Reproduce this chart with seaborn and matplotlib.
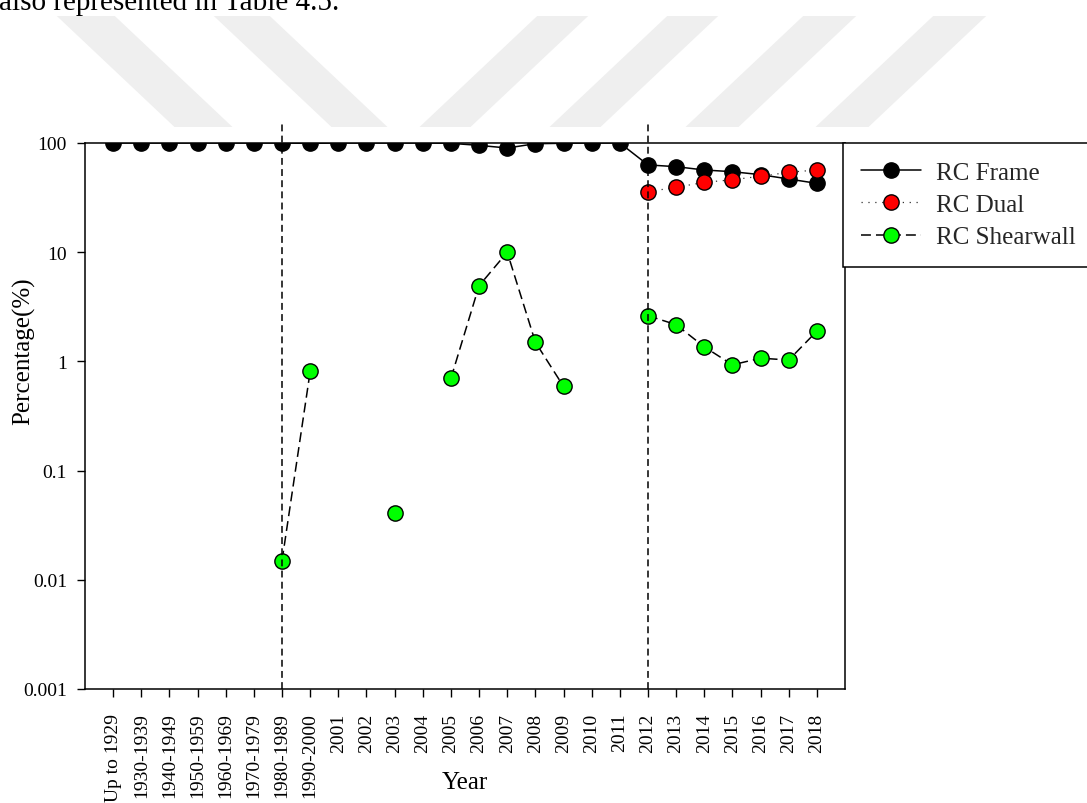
import numpy as np
import pandas as pd
import matplotlib
matplotlib.use("Agg")
import matplotlib.pyplot as plt
import seaborn as sns
from matplotlib.lines import Line2D
from matplotlib.patches import Polygon
from matplotlib.ticker import FixedLocator, NullLocator

# ---------------- data ----------------
categories = ["Up to 1929", "1930-1939", "1940-1949", "1950-1959", "1960-1969",
              "1970-1979", "1980-1989", "1990-2000", "2001", "2002", "2003", "2004",
              "2005", "2006", "2007", "2008", "2009", "2010", "2011", "2012", "2013",
              "2014", "2015", "2016", "2017", "2018"]
nan = np.nan
rc_frame = [100, 100, 100, 100, 100, 100, 99.985, 99.2, 100, 100, 99.96, 100,
            99.3, 95.1, 90.0, 98.5, 99.4, 100, 100,
            63.0, 60.7, 56.6, 54.6, 51.3, 46.8, 42.7]
rc_dual = [nan] * 19 + [35.8, 39.3, 43.6, 46.1, 49.6, 53.9, 56.6]
rc_shearwall = [nan, nan, nan, nan, nan, nan, 0.015, 0.81, nan, nan, 0.041, nan,
                0.70, 4.93, 10.0, 1.5, 0.59, nan, nan,
                2.62, 2.17, 1.36, 0.93, 1.07, 1.03, 1.89]
series_names = ["RC Frame", "RC Dual", "RC Shearwall"]
y_ticks = [0.001, 0.01, 0.1, 1, 10, 100]
y_tick_labels = ["0.001", "0.01", "0.1", "1", "10", "100"]
ref_categories = ["1980-1989", "2012"]
x_label = "Year"
y_label = "Percentage(%)"
page_text = "also represented in Table 4.5."

# ---------------- style ----------------
sns.set_theme(style="white")
plt.rcParams["font.family"] = ["Liberation Serif", "DejaVu Serif"]

W, H = 1087, 804
fig = plt.figure(figsize=(W / 100, H / 100), dpi=100)
fig.patch.set_facecolor("white")

# watermark stripes (page decoration)
stripe_specs = [(1, 60, 58), (1, 217, 56), (-1, 534, 51), (-1, 664, 51),
                (-1, 800, 53), (-1, 930, 53)]
y0p, y1p, slope = 17, 128, 1.06
for sgn, left20, wid in stripe_specs:
    lt = left20 + sgn * slope * (y0p - 20)
    lb = left20 + sgn * slope * (y1p - 20)
    pts = [(lt, y0p), (lt + wid, y0p), (lb + wid, y1p), (lb, y1p)]
    pts = [(x / W, 1 - y / H) for x, y in pts]
    fig.add_artist(Polygon(pts, closed=True, transform=fig.transFigure,
                           facecolor="#efefef", edgecolor="none", zorder=0))

fig.text(-1 / W, 1 - 10.5 / H, page_text, fontsize=21, va="baseline", ha="left",
         color="black")

ax = fig.add_axes([85 / W, 1 - 690 / H, 760 / W, 546 / H])
ax.set_facecolor("none")
ax.set_yscale("log")

styles = {
    "RC Frame": dict(color="black", linestyle="-", linewidth=1.1, mfc="black", z=3),
    "RC Dual": dict(color="#333333", linestyle=(0, (1, 4.5)), linewidth=0.9, mfc="#ff0000", z=4),
    "RC Shearwall": dict(color="black", linestyle=(0, (6.5, 3.3)), linewidth=1.1, mfc="#00ff00", z=5),
}
values = {"RC Frame": rc_frame, "RC Dual": rc_dual, "RC Shearwall": rc_shearwall}

n = len(categories)
msize = 11
handles = []
for name in series_names:
    st = styles[name]
    df = pd.DataFrame({"pos": np.arange(n), "val": values[name]})
    df["seg"] = df["val"].isna().cumsum()
    df = df.dropna()
    for _, sub in df.groupby("seg"):
        sns.lineplot(data=sub, x="pos", y="val", ax=ax, estimator=None, errorbar=None,
                     color=st["color"], linestyle=st["linestyle"], linewidth=st["linewidth"],
                     marker="o", markersize=msize, markerfacecolor=st["mfc"],
                     markeredgecolor="black", markeredgewidth=1.0, legend=False,
                     zorder=st["z"])
    handles.append(Line2D([], [], color=st["color"], linestyle=st["linestyle"],
                          linewidth=st["linewidth"], marker="o", markersize=msize,
                          markerfacecolor=st["mfc"], markeredgecolor="black",
                          markeredgewidth=1.0, label=name))

for cat in ref_categories:
    ax.axvline(categories.index(cat), ymin=0, ymax=1.04, clip_on=False, color="black",
               linestyle=(0, (4.5, 2.8)), linewidth=1.1, zorder=6)

ax.set_xlim(-1, n)
ax.set_ylim(y_ticks[0], y_ticks[-1])
ax.set_xticks(np.arange(n))
ax.set_xticklabels(categories, rotation=90)
ax.yaxis.set_major_locator(FixedLocator(y_ticks))
ax.set_yticklabels(y_tick_labels)
ax.yaxis.set_minor_locator(NullLocator())
ax.xaxis.set_minor_locator(NullLocator())

ax.tick_params(axis="both", which="major", direction="out", length=6, width=1,
               color="black", labelcolor="black", labelsize=14)
ax.tick_params(axis="y", pad=7, left=True)
ax.tick_params(axis="x", pad=11, bottom=True)
for sp in ax.spines.values():
    sp.set_visible(True)
    sp.set_color("black")
    sp.set_linewidth(1.1)

ax.set_xlabel(x_label, fontsize=18, color="black")
ax.set_ylabel(y_label, fontsize=18, color="black")
ax.xaxis.set_label_coords(0.5, -0.15)
ax.yaxis.set_label_coords(-0.066, 0.62)

leg = ax.legend(handles=handles, loc="upper left", bbox_to_anchor=(0.997, 0.0, 0.45, 1.0),
                mode="expand", borderaxespad=0, fontsize=18, frameon=True, fancybox=False,
                framealpha=1, edgecolor="black", handlelength=2.4, handletextpad=0.6,
                labelspacing=0.4, borderpad=0.72)
leg.get_frame().set_linewidth(1.1)
leg.set_zorder(10)

fig.savefig("out.png", dpi=100)
